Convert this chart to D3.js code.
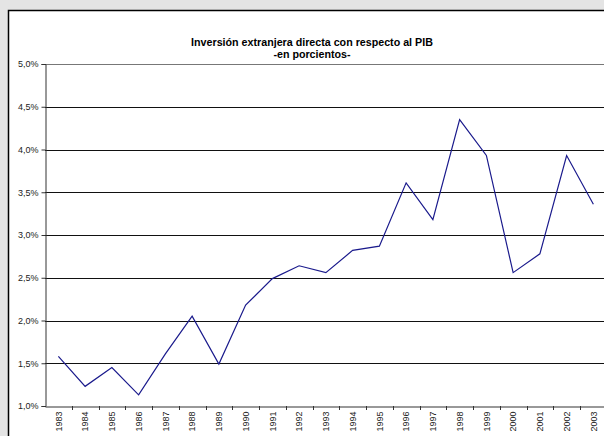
<!DOCTYPE html>
<html>
<head>
<meta charset="utf-8">
<script src="https://cdn.jsdelivr.net/npm/d3@7"></script>
<style>
  body { margin: 0; background: #e4e4e4; }
  svg { display: block; font-family: "Liberation Sans", Arial, sans-serif; }
  .axis text { font-size: 9px; fill: #222; }
</style>
</head>
<body>
<div id="chart"></div>
<script>
// years on the category axis
var years = ["1983","1984","1985","1986","1987","1988","1989","1990","1991","1992","1993",
             "1994","1995","1996","1997","1998","1999","2000","2001","2002","2003"];
// inversion extranjera directa / PIB, percent
var ied = [1.58, 1.23, 1.45, 1.13, 1.61, 2.05, 1.49, 2.18, 2.49, 2.64, 2.56,
           2.82, 2.87, 3.61, 3.18, 4.35, 3.93, 2.56, 2.78, 3.93, 3.36];
var yTicks = [1.0, 1.5, 2.0, 2.5, 3.0, 3.5, 4.0, 4.5, 5.0];

var W = 604, H = 436;
var plotLeft = 45, plotTop = 64, plotBottom = 406;
var band = 26.75;

var svg = d3.select("#chart").append("svg")
  .attr("width", W).attr("height", H);

// white chart area with black frame (right/bottom cut off)
svg.append("rect")
  .attr("x", 8.5).attr("y", 10.5)
  .attr("width", W).attr("height", H)
  .attr("fill", "#fff").attr("stroke", "#000").attr("stroke-width", 1.5);

var x = d3.scaleBand().domain(years).range([plotLeft, plotLeft + band * years.length]);
var y = d3.scaleLinear().domain([1.0, 5.0]).range([plotBottom, plotTop]);

// gridlines
svg.append("g")
  .selectAll("line")
  .data(yTicks.slice(1))
  .enter().append("line")
  .attr("x1", plotLeft).attr("x2", W)
  .attr("y1", function(d) { return Math.round(y(d)) + 0.5; })
  .attr("y2", function(d) { return Math.round(y(d)) + 0.5; })
  .attr("stroke", function(d) { return d == 5.0 ? "#777" : "#111"; })
  .attr("stroke-width", 1);

// y axis
var yAxis = d3.axisLeft(y)
  .tickValues(yTicks)
  .tickSize(4)
  .tickPadding(3)
  .tickFormat(function(d) { return d3.format(".1f")(d).replace(".", ",") + "%"; });

var gy = svg.append("g")
  .attr("class", "axis")
  .attr("transform", "translate(" + (plotLeft + 0.5) + ",0)")
  .call(yAxis);
gy.select(".domain").attr("stroke", "#333");
gy.selectAll(".tick line").attr("stroke", "#333");

// x axis
var xAxis = d3.axisBottom(x).tickSize(0).tickPadding(5);
var gx = svg.append("g")
  .attr("class", "axis")
  .attr("transform", "translate(0," + (plotBottom + 0.5) + ")")
  .call(xAxis);
gx.select(".domain").attr("stroke", "#333");
gx.selectAll(".tick text")
  .attr("transform", "rotate(-90)")
  .attr("x", -5).attr("y", 0).attr("dy", "0.35em")
  .attr("text-anchor", "end");

// tick marks between categories
svg.append("g")
  .selectAll("line")
  .data(years)
  .enter().append("line")
  .attr("x1", function(d) { return Math.round(x(d) + band) + 0.5; })
  .attr("x2", function(d) { return Math.round(x(d) + band) + 0.5; })
  .attr("y1", plotBottom)
  .attr("y2", plotBottom + 4)
  .attr("stroke", "#333");

// the series
var line = d3.line()
  .x(function(d, i) { return x(years[i]) + band / 2; })
  .y(function(d) { return y(d); });

svg.append("path")
  .datum(ied)
  .attr("d", line)
  .attr("fill", "none")
  .attr("stroke", "#1a1a8c")
  .attr("stroke-width", 1.2);

// title
svg.append("text")
  .attr("x", 312).attr("y", 46)
  .attr("text-anchor", "middle")
  .style("font-size", "10.7px").style("font-weight", "bold")
  .text("Inversión extranjera directa con respecto al PIB");
svg.append("text")
  .attr("x", 312).attr("y", 58)
  .attr("text-anchor", "middle")
  .style("font-size", "10.7px").style("font-weight", "bold")
  .text("-en porcientos-");
</script>
</body>
</html>
